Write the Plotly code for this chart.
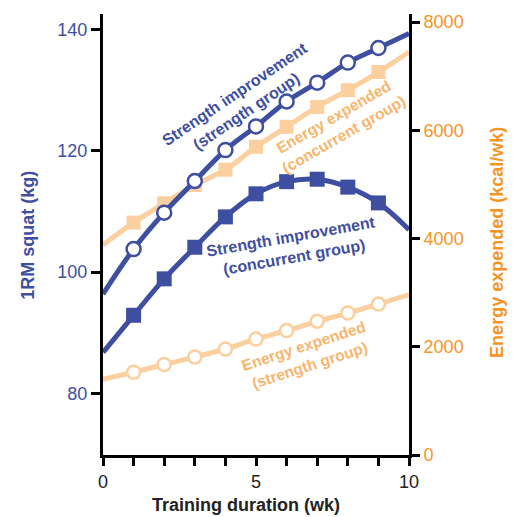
import plotly.graph_objects as go

# ---- data ----
weeks = [0, 1, 2, 3, 4, 5, 6, 7, 8, 9, 10]
# 1RM squat (kg), curve values at weeks 0..10 (markers at 1..9)
strength_strength_kg = [96.4, 103.8, 109.8, 115.0, 120.1, 124.0, 128.1, 131.2, 134.5, 136.9, 139.3]
strength_concurrent_kg = [86.8, 92.9, 98.9, 104.1, 109.1, 112.9, 114.9, 115.3, 114.0, 111.4, 107.0]
# Energy expended (kcal/wk)
energy_concurrent = [3884, 4295, 4651, 4990, 5272, 5696, 6065, 6433, 6741, 7078, 7447]
energy_strength = [1401, 1530, 1672, 1812, 1959, 2144, 2299, 2470, 2623, 2789, 2962]

x_tickvals = [0, 1, 2, 3, 4, 5, 6, 7, 8, 9, 10]
x_ticktext = ["0", "", "", "", "", "5", "", "", "", "", "10"]
kg_ticks = [80, 100, 120, 140]
kcal_ticks = [0, 2000, 4000, 6000, 8000]

BLUE = "#3E4FA1"
PEACH = "#FCD09E"
PEACH_TEXT = "#F9B56C"
ORANGE = "#F7941E"
FONT = "Liberation Sans"

fig = go.Figure()

mk = weeks[1:10]

# energy traces (yaxis 'y', shown on the right) - drawn beneath
fig.add_trace(go.Scatter(x=weeks, y=energy_concurrent, mode="lines", yaxis="y",
                         line=dict(color=PEACH, width=5, shape="spline"), hoverinfo="skip"))
fig.add_trace(go.Scatter(x=mk, y=energy_concurrent[1:10], mode="markers", yaxis="y",
                         marker=dict(symbol="square", size=14, color=PEACH, line=dict(width=0))))
fig.add_trace(go.Scatter(x=weeks, y=energy_strength, mode="lines", yaxis="y",
                         line=dict(color=PEACH, width=5, shape="spline"), hoverinfo="skip"))
fig.add_trace(go.Scatter(x=mk, y=energy_strength[1:10], mode="markers", yaxis="y",
                         marker=dict(symbol="circle", size=13, color="white",
                                     line=dict(width=2.5, color=PEACH))))

# strength traces (yaxis 'y2', shown on the left) - drawn on top
fig.add_trace(go.Scatter(x=weeks, y=strength_concurrent_kg, mode="lines", yaxis="y2",
                         line=dict(color=BLUE, width=5, shape="spline"), hoverinfo="skip"))
fig.add_trace(go.Scatter(x=mk, y=strength_concurrent_kg[1:10], mode="markers", yaxis="y2",
                         marker=dict(symbol="square", size=15, color=BLUE, line=dict(width=0))))
fig.add_trace(go.Scatter(x=weeks, y=strength_strength_kg, mode="lines", yaxis="y2",
                         line=dict(color=BLUE, width=5, shape="spline"), hoverinfo="skip"))
fig.add_trace(go.Scatter(x=mk, y=strength_strength_kg[1:10], mode="markers", yaxis="y2",
                         marker=dict(symbol="circle", size=14, color="white",
                                     line=dict(width=2.5, color=BLUE))))

axis_common = dict(showgrid=False, zeroline=False, showline=True, linecolor="black",
                   linewidth=3, ticks="outside", tickcolor="black", tickwidth=3)

fig.update_layout(
    width=515, height=517,
    margin=dict(l=103, r=106, t=12, b=62),
    paper_bgcolor="white", plot_bgcolor="white",
    showlegend=False,
    font=dict(family=FONT, size=18, color="#222222"),
    xaxis=dict(range=[0, 10], tickvals=x_tickvals, ticktext=x_ticktext, ticklen=8,
               tickfont=dict(size=18, color="#222222"), **axis_common),
    yaxis=dict(range=[0, 8150], side="right", tickvals=kcal_ticks, ticklen=8,
               tickfont=dict(size=18, color=ORANGE), **axis_common),
    yaxis2=dict(range=[69.9, 142.5], side="left", overlaying="y", tickvals=kg_ticks, ticklen=9,
                tickfont=dict(size=18, color=BLUE), **axis_common),
)

anns = [
    dict(text="<b>Strength improvement<br>(strength group)</b>", x=4.48, y=127.9,
         color=BLUE, angle=-34, size=16),
    dict(text="<b>Energy expended<br>(concurrent group)</b>", x=7.70, y=124.1,
         color=PEACH_TEXT, angle=-30, size=15.5),
    dict(text="<b>Strength improvement<br>(concurrent group)</b>", x=6.18, y=104.2,
         color=BLUE, angle=-10, size=16),
    dict(text="<b>Energy expended<br>(strength group)</b>", x=6.65, y=86.3,
         color=PEACH_TEXT, angle=-18, size=15.5),
]
for a in anns:
    fig.add_annotation(text=a["text"], x=a["x"], y=a["y"], xref="x", yref="y2",
                       showarrow=False, textangle=a["angle"], xanchor="center", yanchor="middle",
                       font=dict(family=FONT, size=a["size"], color=a["color"]))

# axis titles
fig.add_annotation(text="<b>1RM squat (kg)</b>", xref="paper", yref="paper",
                   x=-0.245, y=0.497, showarrow=False, textangle=-90,
                   xanchor="center", yanchor="middle", font=dict(family=FONT, size=18, color=BLUE))
fig.add_annotation(text="<b>Energy expended (kcal/wk)</b>", xref="paper", yref="paper",
                   x=1.2876, y=0.481, showarrow=False, textangle=-90,
                   xanchor="center", yanchor="middle", font=dict(family=FONT, size=18, color=ORANGE))
fig.add_annotation(text="<b>Training duration (wk)</b>", xref="paper", yref="paper",
                   x=0.467, y=-0.113, showarrow=False,
                   xanchor="center", yanchor="middle", font=dict(family=FONT, size=18, color="#222222"))

fig.write_html("out.html",
               config={"displayModeBar": False, "staticPlot": True},
               post_script="document.body.style.margin='0';document.body.style.padding='0';"
                           "document.body.style.overflow='hidden';")
